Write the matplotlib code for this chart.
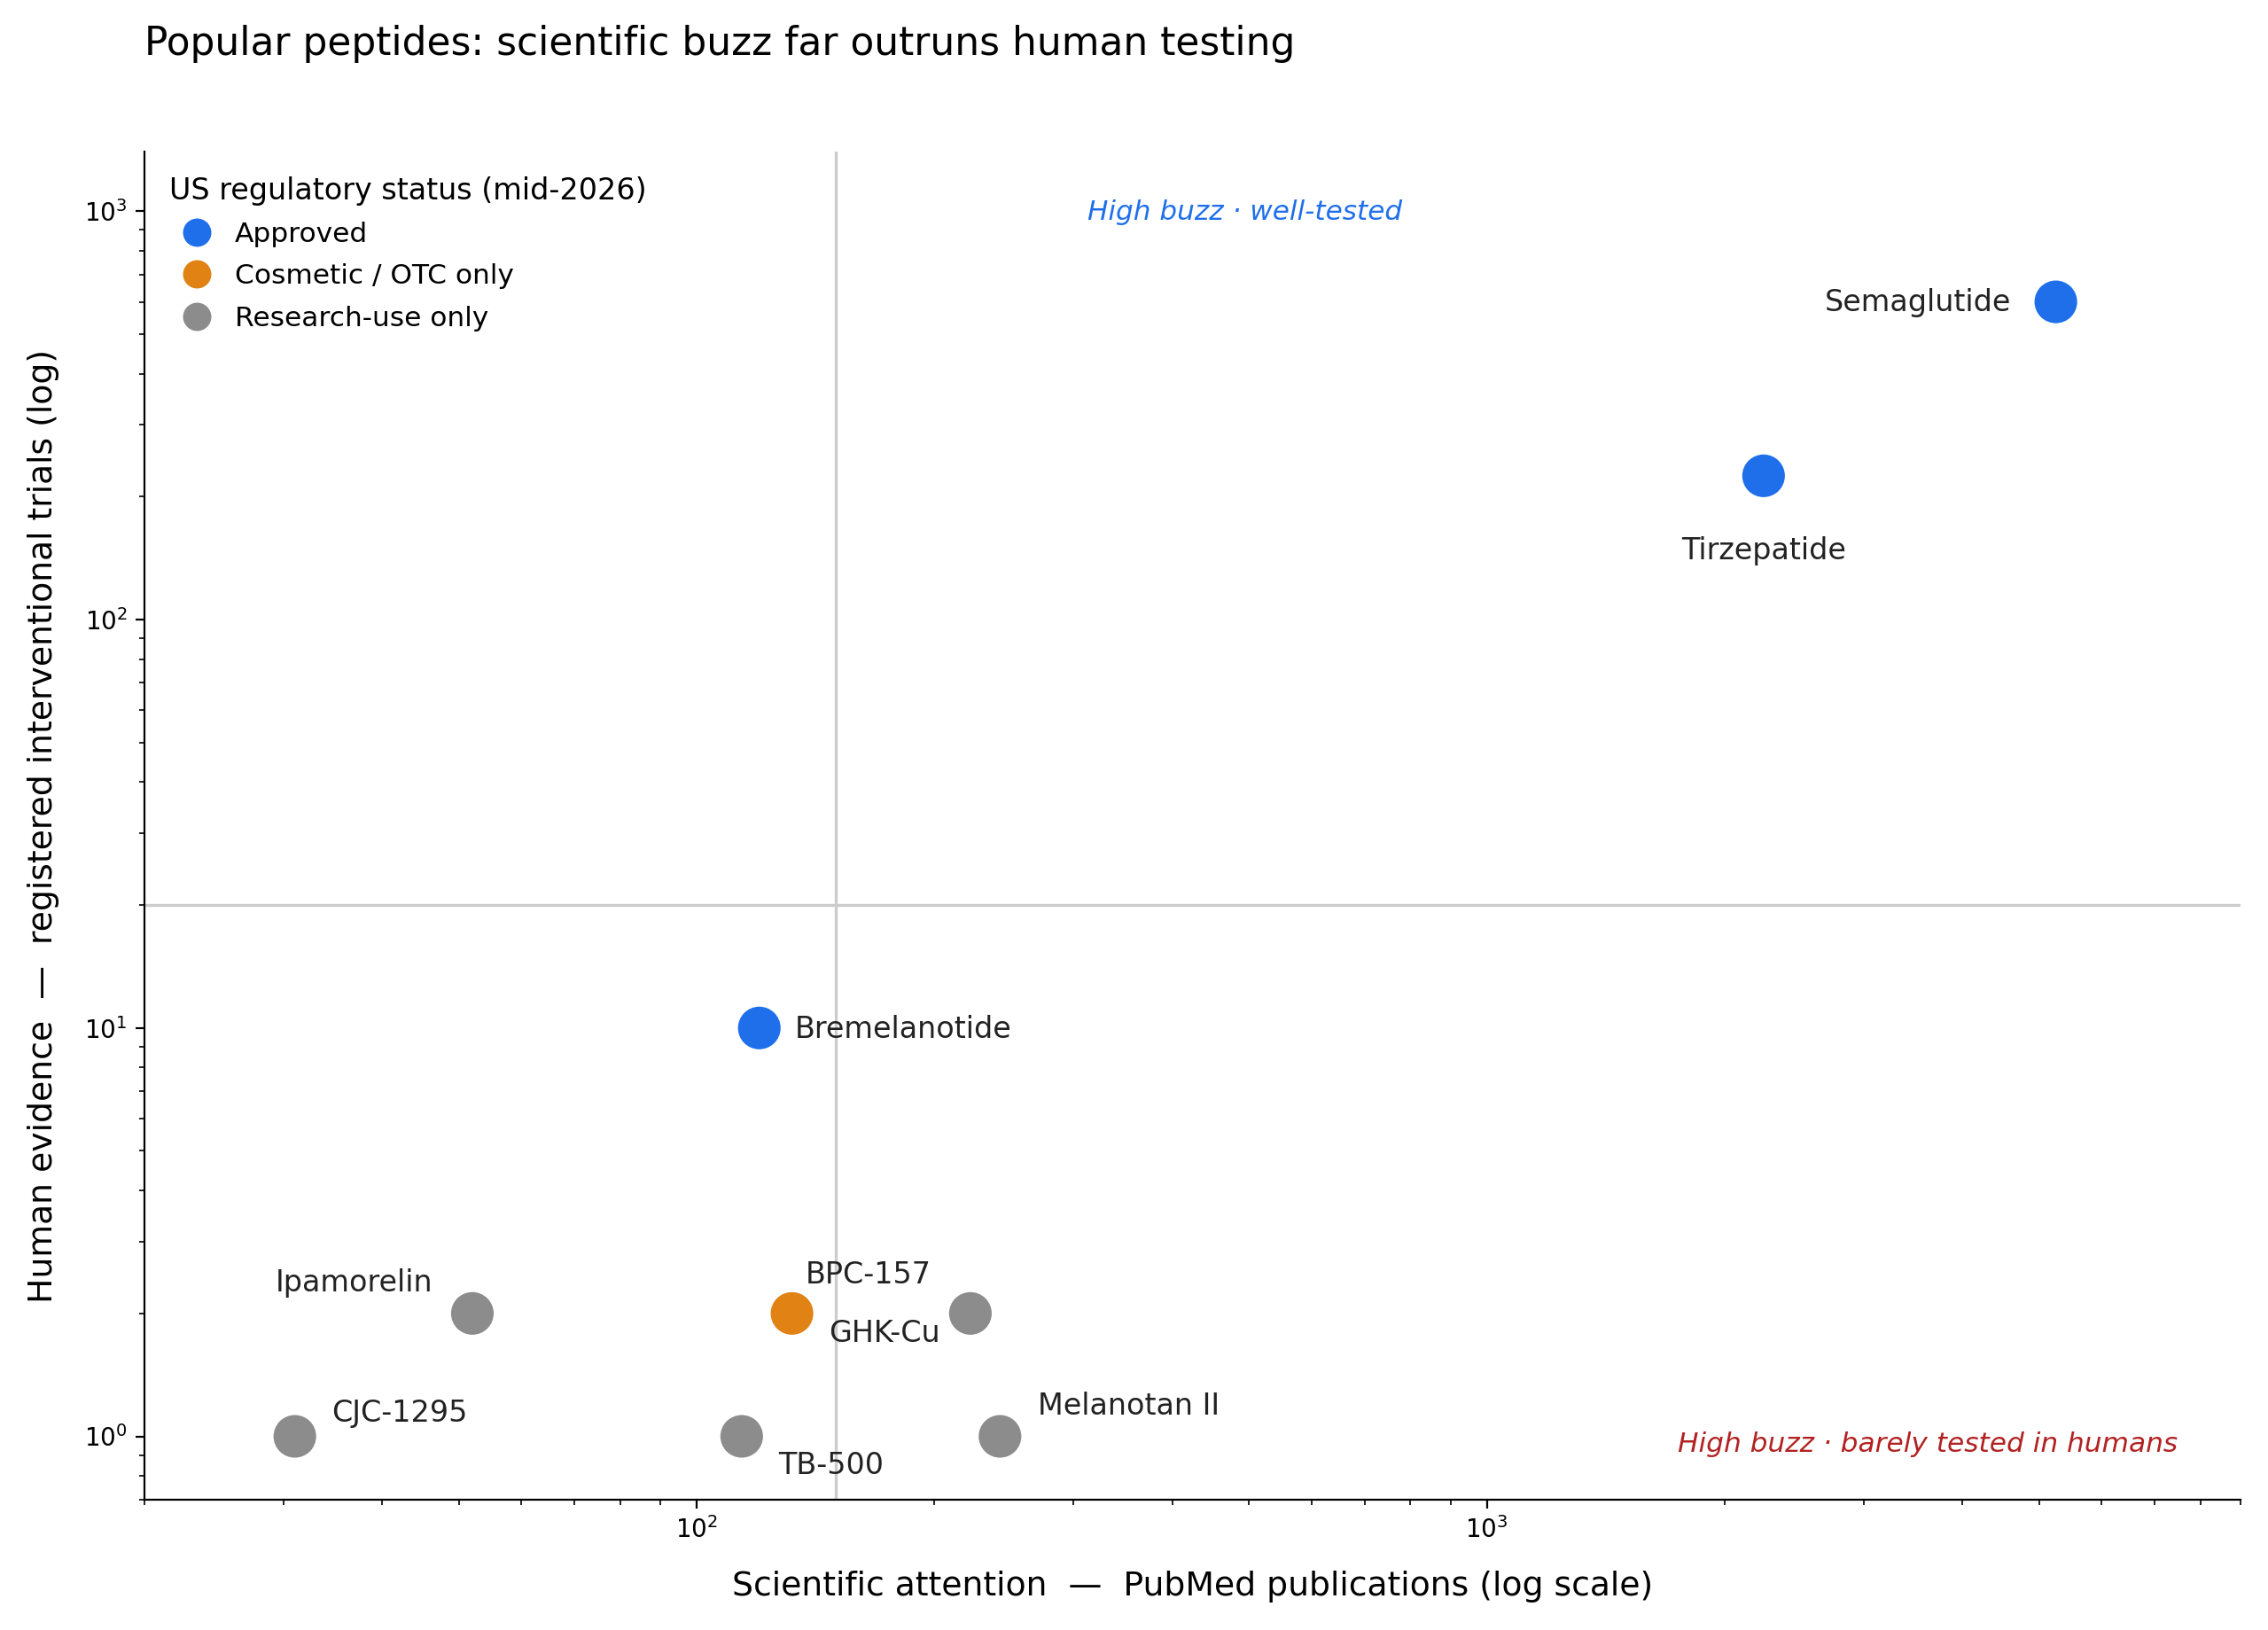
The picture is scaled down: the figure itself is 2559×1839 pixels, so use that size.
import matplotlib
matplotlib.use("Agg")
import matplotlib.pyplot as plt
from matplotlib.lines import Line2D

# peptide data
names = ["Semaglutide", "Tirzepatide", "Bremelanotide", "Ipamorelin", "GHK-Cu",
         "BPC-157", "CJC-1295", "TB-500", "Melanotan II"]
pubs = [5250, 2240, 120, 52, 132, 222, 31, 114, 242]
trials = [600, 225, 10, 2, 2, 2, 1, 1, 1]
status = ["Approved", "Approved", "Approved", "Research-use only", "Cosmetic / OTC only",
          "Research-use only", "Research-use only", "Research-use only", "Research-use only"]

status_order = ["Approved", "Cosmetic / OTC only", "Research-use only"]
colors = {"Approved": "#1f6feb", "Cosmetic / OTC only": "#e08214", "Research-use only": "#8c8c8c"}

x_cut = 150
y_cut = 20

# label placement: (dx, dy) in points, ha, va
label_pos = {
    "Semaglutide": (-18, -0.5, "right", "center"),
    "Tirzepatide": (0, -30.5, "center", "center"),
    "Bremelanotide": (14.5, -0.5, "left", "center"),
    "Ipamorelin": (-16, 12.5, "right", "center"),
    "GHK-Cu": (15, -8.3, "left", "center"),
    "BPC-157": (-16, 15.5, "right", "center"),
    "CJC-1295": (15, 9.3, "left", "center"),
    "TB-500": (15, -11.8, "left", "center"),
    "Melanotan II": (15.5, 12.3, "left", "center"),
}

fig = plt.figure(figsize=(12.795, 9.195), dpi=200)
ax = fig.add_axes([0.0637, 0.080, 0.9243, 0.827])

ax.set_xscale("log")
ax.set_yscale("log")
ax.set_xlim(20, 9000)
ax.set_ylim(0.7, 1400)

ax.axvline(x_cut, color="#cccccc", lw=1.2, zorder=1)
ax.axhline(y_cut, color="#cccccc", lw=1.2, zorder=1)

ax.scatter(pubs, trials, s=300, c=[colors[s] for s in status], edgecolors="none", zorder=3)

for n, x, y in zip(names, pubs, trials):
    dx, dy, ha, va = label_pos[n]
    ax.annotate(n, (x, y), xytext=(dx, dy), textcoords="offset points",
                ha=ha, va=va, fontsize=12, color="#222222")

ax.text(0.45, 0.955, "High buzz · well-tested", transform=ax.transAxes,
        fontsize=11.2, style="italic", color="#1f6feb", ha="left", va="center")
ax.text(0.97, 0.041, "High buzz · barely tested in humans", transform=ax.transAxes,
        fontsize=11.25, style="italic", color="#b22222", ha="right", va="center")

ax.spines["top"].set_visible(False)
ax.spines["right"].set_visible(False)

ax.set_xlabel("Scientific attention  —  PubMed publications (log scale)", fontsize=13.6, labelpad=11)
ax.set_ylabel("Human evidence  —  registered interventional trials (log)", fontsize=13.6, labelpad=10)

handles = [Line2D([], [], marker="o", linestyle="none", markersize=11.5,
                  markerfacecolor=colors[s], markeredgecolor="none", label=s)
           for s in status_order]
ax.legend(handles=handles, title="US regulatory status (mid-2026)", loc="upper left",
          frameon=False, fontsize=11.25, title_fontsize=12, alignment="left",
          handlelength=2.0, handletextpad=0.35, labelspacing=0.58)

fig.text(0.0637, 0.973, "Popular peptides: scientific buzz far outruns human testing",
         fontsize=15.8, ha="left", va="center")

fig.savefig("out.png", dpi=200)
